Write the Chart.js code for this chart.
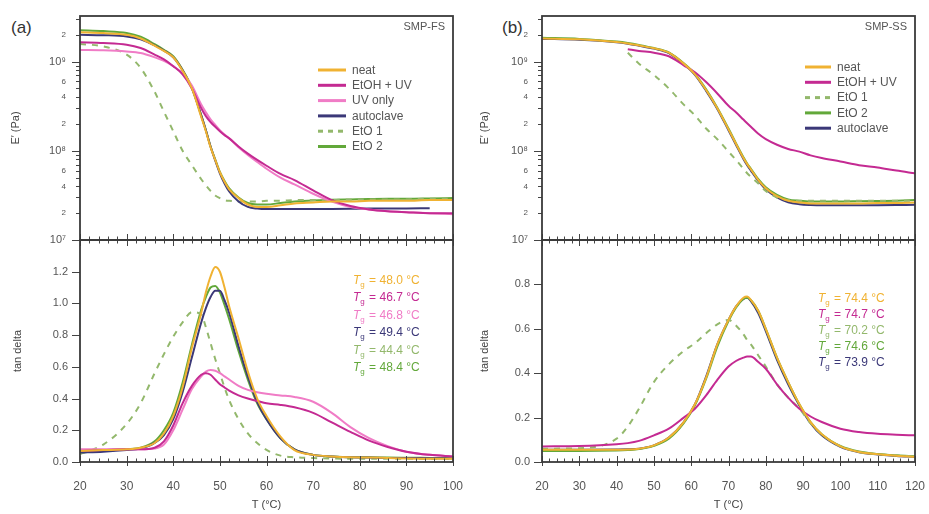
<!DOCTYPE html>
<html>
<head>
<meta charset="utf-8">
<script src="https://cdn.jsdelivr.net/npm/chart.js@4.4.1/dist/chart.umd.min.js"></script>
<style>
  body { margin: 0; background: #fff; width: 929px; height: 514px; position: relative; overflow: hidden; font-family: "Liberation Sans", Arial, sans-serif; }
  canvas { position: absolute; }
  .tag { position: absolute; font-size: 17px; color: #333; }
</style>
</head>
<body>
<div class="tag" style="left:11px;top:18px">(a)</div>
<div class="tag" style="left:502px;top:18px">(b)</div>
<canvas id="aTop" width="465" height="246" style="left:0;top:0"></canvas>
<canvas id="aBot" width="465" height="280" style="left:0;top:234px"></canvas>
<canvas id="bTop" width="464" height="246" style="left:465px;top:0"></canvas>
<canvas id="bBot" width="464" height="280" style="left:465px;top:234px"></canvas>
<script>
// ---- panel (a) SMP-FS ----
const tA = [20,25,30,33,36,38,40,42,44,46,47,48,49,50,51,52,54,56,58,60,63,66,70,74,78,82,86,90,95,100];
const labelsA = ["neat", "EtOH + UV", "UV only", "autoclave", "EtO 1", "EtO 2"];
const tgA = ["48.0", "46.7", "46.8", "49.4", "44.4", "48.4"];

const eNeatA = [2.14e9,2.09e9,2.0e9,1.82e9,1.51e9,1.32e9,1.12e9,7.9e8,5.0e8,2.4e8,1.66e8,1.1e8,7.9e7,5.75e7,4.5e7,3.7e7,2.95e7,2.5e7,2.35e7,2.35e7,2.45e7,2.57e7,2.63e7,2.7e7,2.7e7,2.75e7,2.75e7,2.75e7,2.8e7,2.8e7];
const eEtohA = [1.65e9,1.62e9,1.55e9,1.42e9,1.2e9,1.06e9,8.9e8,7.2e8,5.0e8,3.0e8,2.45e8,2.1e8,1.86e8,1.66e8,1.5e8,1.38e8,1.12e8,9.3e7,7.9e7,6.8e7,5.5e7,4.7e7,3.6e7,2.8e7,2.4e7,2.2e7,2.1e7,2.05e7,2.0e7,2.0e7];
const eUvA   = [1.35e9,1.34e9,1.3e9,1.25e9,1.12e9,1.02e9,8.9e8,7.4e8,5.4e8,3.3e8,2.7e8,2.25e8,1.95e8,1.7e8,1.52e8,1.38e8,1.1e8,9.0e7,7.5e7,6.3e7,5.0e7,4.2e7,3.3e7,2.7e7,2.35e7,2.2e7,2.1e7,2.05e7,2.0e7,1.95e7];
const eAutoA = [2.0e9,1.98e9,1.92e9,1.78e9,1.52e9,1.33e9,1.12e9,8.0e8,5.0e8,2.5e8,1.7e8,1.12e8,7.8e7,5.6e7,4.3e7,3.5e7,2.7e7,2.35e7,2.25e7,2.22e7,2.22e7,2.22e7,2.22e7,2.23e7,2.24e7,2.25e7,2.25e7,2.26e7,2.27e7,null];
const eEto1A = [1.58e9,1.48e9,1.2e9,8.5e8,4.6e8,2.75e8,1.66e8,1.0e8,6.9e7,4.8e7,4.1e7,3.55e7,3.15e7,2.95e7,2.8e7,2.75e7,2.7e7,2.7e7,2.7e7,2.75e7,2.75e7,2.8e7,2.8e7,2.8e7,2.85e7,2.85e7,2.85e7,2.85e7,2.9e7,2.9e7];
const eEto2A = [2.25e9,2.2e9,2.1e9,1.9e9,1.57e9,1.36e9,1.15e9,8.1e8,5.1e8,2.5e8,1.7e8,1.12e8,8.0e7,5.8e7,4.6e7,3.8e7,3.0e7,2.6e7,2.5e7,2.5e7,2.6e7,2.7e7,2.78e7,2.82e7,2.85e7,2.88e7,2.9e7,2.9e7,2.92e7,2.95e7];

const dNeatA = [0.07,0.075,0.08,0.09,0.12,0.18,0.29,0.47,0.72,0.94,1.07,1.17,1.23,1.2,1.1,0.98,0.78,0.57,0.4,0.29,0.16,0.075,0.045,0.035,0.03,0.028,0.025,0.022,0.02,0.02];
const dEtohA = [0.07,0.075,0.08,0.08,0.09,0.13,0.23,0.37,0.48,0.55,0.56,0.55,0.52,0.49,0.47,0.45,0.42,0.4,0.385,0.37,0.36,0.345,0.31,0.25,0.19,0.135,0.095,0.065,0.045,0.035];
const dUvA   = [0.08,0.08,0.08,0.08,0.085,0.11,0.2,0.33,0.46,0.54,0.57,0.58,0.575,0.56,0.54,0.52,0.48,0.455,0.44,0.43,0.42,0.41,0.38,0.31,0.22,0.15,0.1,0.065,0.045,0.035];
const dAutoA = [0.06,0.065,0.075,0.085,0.12,0.17,0.27,0.44,0.66,0.88,0.97,1.04,1.08,1.08,1.02,0.94,0.73,0.54,0.38,0.27,0.15,0.08,0.045,0.035,0.03,0.028,0.026,0.025,0.024,0.024];
const dEto1A = [0.05,0.11,0.24,0.37,0.56,0.68,0.79,0.88,0.945,0.93,0.85,0.75,0.65,0.56,0.47,0.39,0.27,0.18,0.12,0.076,0.04,0.03,0.025,0.022,0.02,0.02,0.02,0.02,0.02,0.02];
const dEto2A = [0.06,0.07,0.08,0.09,0.13,0.2,0.31,0.5,0.74,0.96,1.04,1.1,1.11,1.07,0.99,0.9,0.7,0.52,0.37,0.27,0.15,0.08,0.045,0.035,0.03,0.03,0.028,0.027,0.026,0.025];

// ---- panel (b) SMP-SS ----
const tB = [20,30,40,43,46,50,54,58,61,64,67,70,72,74,75,76,78,80,83,86,89,92,95,100,105,110,115,120];
const labelsB = ["neat", "EtOH + UV", "EtO 1", "EtO 2", "autoclave"];
const tgB = ["74.4", "74.7", "70.2", "74.6", "73.9"];

const eNeatB = [1.82e9,1.78e9,1.66e9,1.6e9,1.52e9,1.41e9,1.26e9,9.5e8,7.2e8,4.8e8,3.0e8,1.74e8,1.2e8,8.3e7,7.1e7,6.2e7,4.7e7,3.8e7,3.1e7,2.75e7,2.63e7,2.57e7,2.57e7,2.57e7,2.57e7,2.6e7,2.6e7,2.63e7];
const eEtohB = [null,null,null,1.38e9,1.32e9,1.26e9,1.15e9,9.1e8,7.6e8,5.9e8,4.4e8,3.2e8,2.7e8,2.24e8,2.04e8,1.86e8,1.55e8,1.35e8,1.17e8,1.05e8,9.8e7,8.9e7,8.3e7,7.6e7,6.9e7,6.5e7,6.0e7,5.6e7];
const eEto1B = [null,null,null,1.26e9,9.5e8,7.1e8,5.0e8,3.3e8,2.5e8,1.78e8,1.35e8,9.8e7,7.9e7,6.3e7,5.6e7,5.1e7,4.3e7,3.55e7,3.0e7,2.8e7,2.75e7,2.75e7,2.75e7,2.75e7,2.75e7,2.75e7,2.75e7,2.75e7];
const eEto2B = [1.85e9,1.8e9,1.68e9,1.62e9,1.54e9,1.42e9,1.27e9,9.6e8,7.3e8,4.9e8,3.05e8,1.78e8,1.22e8,8.5e7,7.2e7,6.3e7,4.8e7,3.9e7,3.2e7,2.85e7,2.75e7,2.7e7,2.7e7,2.7e7,2.72e7,2.74e7,2.76e7,2.8e7];
const eAutoB = [1.8e9,1.76e9,1.65e9,1.59e9,1.51e9,1.4e9,1.25e9,9.4e8,7.1e8,4.7e8,2.95e8,1.7e8,1.17e8,8.1e7,6.9e7,6.0e7,4.6e7,3.7e7,3.0e7,2.65e7,2.52e7,2.47e7,2.45e7,2.45e7,2.45e7,2.46e7,2.47e7,2.48e7];

const dNeatB = [0.055,0.055,0.055,0.056,0.06,0.075,0.11,0.18,0.26,0.38,0.53,0.64,0.7,0.74,0.745,0.73,0.68,0.6,0.47,0.36,0.26,0.18,0.125,0.07,0.045,0.035,0.028,0.024];
const dEtohB = [0.07,0.072,0.08,0.085,0.095,0.12,0.15,0.2,0.24,0.3,0.37,0.43,0.455,0.47,0.475,0.475,0.45,0.42,0.35,0.29,0.24,0.205,0.18,0.15,0.135,0.127,0.123,0.12];
const dEto1B = [0.06,0.062,0.105,0.16,0.24,0.36,0.44,0.5,0.535,0.58,0.62,0.64,0.615,0.575,0.55,0.53,0.48,0.43,0.35,0.29,0.24,0.175,0.125,0.07,0.045,0.035,0.03,0.025];
const dEto2B = [0.05,0.05,0.052,0.054,0.058,0.073,0.105,0.175,0.255,0.375,0.52,0.635,0.695,0.735,0.74,0.73,0.68,0.6,0.47,0.36,0.26,0.18,0.125,0.072,0.047,0.036,0.03,0.026];
const dAutoB = [0.055,0.055,0.056,0.057,0.06,0.075,0.11,0.18,0.26,0.385,0.53,0.64,0.7,0.735,0.74,0.725,0.67,0.59,0.46,0.35,0.255,0.175,0.12,0.068,0.044,0.034,0.027,0.023];

// axis tick labels
const eTickVals = [1e7, 2e7, 4e7, 6e7, 1e8, 2e8, 4e8, 6e8, 1e9, 2e9];
const eTickLabels = ["10\u2077", "2", "4", "6", "10\u2078", "2", "4", "6", "10\u2079", "2"];

const col = {
  neat: "#f0b232",
  etoh: "#c42a92",
  uv: "#f07cc6",
  auto: "#3b3878",
  eto1: "#93b86c",
  eto2: "#62a83a"
};

Chart.defaults.font.family = '"Liberation Sans", Arial, sans-serif';
Chart.defaults.color = "#444";

function series(t, vals, label, color, dash) {
  return {
    label: label,
    data: t.map((x, i) => ({ x: x, y: vals[i] })),
    borderColor: color,
    backgroundColor: color,
    borderWidth: 2,
    borderDash: dash || [],
    pointRadius: 0,
    cubicInterpolationMode: "monotone",
    fill: false
  };
}

// frame, ticks, legend and Tg labels
const decor = {
  id: "decor",
  afterDraw(chart, args, o) {
    const { ctx, chartArea: a } = chart;
    const xs = chart.scales.x, ys = chart.scales.y;
    ctx.save();
    ctx.strokeStyle = "#444";
    ctx.lineWidth = 1;
    // x ticks (every 2 degrees, major every 10)
    for (let t = xs.min; t <= xs.max; t += 2) {
      const px = Math.round(xs.getPixelForValue(t)) + 0.5;
      const major = t % 10 === 0;
      const len = major ? 6 : 3.5;
      ctx.beginPath();
      if (o.bottomTicks) {
        ctx.moveTo(px, a.bottom + (major ? 4 : 0));
        ctx.lineTo(px, a.bottom - len);
        ctx.moveTo(px, a.top);
        ctx.lineTo(px, a.top + len);
      } else {
        ctx.moveTo(px, a.bottom);
        ctx.lineTo(px, a.bottom - len);
      }
      ctx.stroke();
    }
    // y ticks outside left
    o.yTicks.forEach(tk => {
      const py = Math.round(ys.getPixelForValue(tk.v)) + 0.5;
      if (py < a.top - 1 || py > a.bottom + 1) return;
      ctx.beginPath();
      ctx.moveTo(a.left - (tk.major ? 8 : 4), py);
      ctx.lineTo(a.left, py);
      ctx.stroke();
    });
    // frame
    ctx.strokeStyle = "#3a3a3a";
    ctx.lineWidth = 1.8;
    ctx.strokeRect(a.left, a.top, a.width, a.height);

    // panel tag
    if (o.tag) {
      ctx.fillStyle = "#555";
      ctx.font = '11px "Liberation Sans", Arial, sans-serif';
      ctx.textAlign = "right";
      ctx.textBaseline = "middle";
      ctx.fillText(o.tag, a.right - 8, a.top + 11);
    }
    // line legend
    if (o.legend) {
      const L = o.legend;
      ctx.font = '12px "Liberation Sans", Arial, sans-serif';
      ctx.textAlign = "left";
      ctx.textBaseline = "middle";
      chart.data.datasets.forEach((ds, i) => {
        const y = L.y + i * L.dy;
        ctx.strokeStyle = ds.borderColor;
        ctx.lineWidth = 3;
        ctx.setLineDash(ds.borderDash.length ? [5, 5] : []);
        ctx.beginPath();
        ctx.moveTo(L.x, y);
        ctx.lineTo(L.x + L.len, y);
        ctx.stroke();
        ctx.setLineDash([]);
        ctx.fillStyle = "#555";
        ctx.fillText(ds.label, L.x + L.len + 6, y + 0.5);
      });
    }
    // Tg labels
    if (o.tg) {
      const T = o.tg;
      ctx.textAlign = "left";
      ctx.textBaseline = "alphabetic";
      chart.data.datasets.forEach((ds, i) => {
        const y = T.y + i * T.dy;
        let x = T.x;
        ctx.fillStyle = ds.borderColor;
        ctx.font = 'italic 12px "Liberation Sans", Arial, sans-serif';
        ctx.fillText("T", x, y);
        x += ctx.measureText("T").width;
        ctx.font = '8px "Liberation Sans", Arial, sans-serif';
        ctx.fillText("g", x, y + 3);
        x += ctx.measureText("g").width + 1;
        ctx.font = '12px "Liberation Sans", Arial, sans-serif';
        ctx.fillText(" = " + T.values[i] + " \u00B0C", x, y);
      });
    }
    ctx.restore();
  }
};

const logTicks = [];
[1e7, 1e8, 1e9].forEach(d => {
  for (let m = 1; m <= 9; m++) logTicks.push({ v: m * d, major: m === 1 });
});

function fitY(panel) {
  return s => {
    s.width = panel === "a" ? 80 : 77;
    s.paddingTop = 0;
    s.paddingBottom = 0;
  };
}

function topChart(id, sets, xmax, titlePad, tag, legend) {
  const right = id[0] === "a" ? 12 : 14;
  return new Chart(document.getElementById(id), {
    type: "line",
    data: { datasets: sets },
    options: {
      responsive: false,
      animation: false,
      layout: { padding: { top: 16, bottom: 6, left: 0, right: right } },
      plugins: {
        legend: { display: false },
        tooltip: { enabled: false },
        decor: { yTicks: logTicks, tag: tag, legend: legend, bottomTicks: false }
      },
      scales: {
        x: { type: "linear", min: 20, max: xmax, display: false },
        y: {
          type: "logarithmic",
          min: 1e7,
          max: 3.25e9,
          afterFit: fitY(id[0]),
          afterBuildTicks: s => { s.ticks = eTickVals.map(v => ({ value: v })); },
          grid: { display: false, drawTicks: false },
          border: { display: false },
          ticks: {
            autoSkip: false,
            padding: 14,
            color: "#555",
            callback: (v, i) => eTickLabels[i],
            font: c => ({ size: eTickLabels[c.index] && eTickLabels[c.index].length > 1 ? 11 : 8 })
          },
          title: { display: true, text: "E\u2032 (Pa)", font: { size: 11 }, color: "#444", padding: { top: titlePad, bottom: 0 } }
        }
      }
    },
    plugins: [decor]
  });
}

function botChart(id, sets, xmax, ymax, yTickVals, titlePad, tg) {
  const right = id[0] === "a" ? 12 : 14;
  return new Chart(document.getElementById(id), {
    type: "line",
    data: { datasets: sets },
    options: {
      responsive: false,
      animation: false,
      layout: { padding: { top: 6, bottom: 0, left: 0, right: right } },
      plugins: {
        legend: { display: false },
        tooltip: { enabled: false },
        decor: { yTicks: yTickVals.map(v => ({ v: v, major: true })), tg: tg, bottomTicks: true }
      },
      scales: {
        x: {
          type: "linear",
          min: 20,
          max: xmax,
          afterFit: s => { s.height = 52; s.paddingLeft = 0; s.paddingRight = 0; },
          grid: { display: false, drawTicks: false },
          border: { display: false },
          ticks: { stepSize: 10, padding: 17, color: "#555", font: { size: 12 }, maxRotation: 0 },
          title: { display: true, text: "T (\u00B0C)", font: { size: 11 }, color: "#444", padding: { top: 0, bottom: 2 } }
        },
        y: {
          type: "linear",
          min: 0,
          max: ymax,
          afterFit: fitY(id[0]),
          afterBuildTicks: s => { s.ticks = yTickVals.map(v => ({ value: v })); },
          grid: { display: false, drawTicks: false },
          border: { display: false },
          ticks: { autoSkip: false, padding: 12, color: "#555", font: { size: 11 }, callback: v => v.toFixed(1) },
          title: { display: true, text: "tan delta", font: { size: 11 }, color: "#444", padding: { top: titlePad, bottom: 0 } }
        }
      }
    },
    plugins: [decor]
  });
}

// panel (a)
topChart("aTop", [
  series(tA, eNeatA, labelsA[0], col.neat),
  series(tA, eEtohA, labelsA[1], col.etoh),
  series(tA, eUvA, labelsA[2], col.uv),
  series(tA, eAutoA, labelsA[3], col.auto),
  series(tA, eEto1A, labelsA[4], col.eto1, [6, 6]),
  series(tA, eEto2A, labelsA[5], col.eto2)
], 100, 9, "SMP-FS", { x: 318, y: 70, dy: 15.3, len: 28 });

botChart("aBot", [
  series(tA, dNeatA, labelsA[0], col.neat),
  series(tA, dEtohA, labelsA[1], col.etoh),
  series(tA, dUvA, labelsA[2], col.uv),
  series(tA, dAutoA, labelsA[3], col.auto),
  series(tA, dEto1A, labelsA[4], col.eto1, [6, 6]),
  series(tA, dEto2A, labelsA[5], col.eto2)
], 100, 1.4, [0, 0.2, 0.4, 0.6, 0.8, 1.0, 1.2], 11, { x: 353, y: 50, dy: 17.4, values: tgA });

// panel (b)
topChart("bTop", [
  series(tB, eNeatB, labelsB[0], col.neat),
  series(tB, eEtohB, labelsB[1], col.etoh),
  series(tB, eEto1B, labelsB[2], col.eto1, [6, 6]),
  series(tB, eEto2B, labelsB[3], col.eto2),
  series(tB, eAutoB, labelsB[4], col.auto)
], 120, 13, "SMP-SS", { x: 340, y: 67, dy: 15.3, len: 26 });

botChart("bBot", [
  series(tB, dNeatB, labelsB[0], col.neat),
  series(tB, dEtohB, labelsB[1], col.etoh),
  series(tB, dEto1B, labelsB[2], col.eto1, [6, 6]),
  series(tB, dEto2B, labelsB[3], col.eto2),
  series(tB, dAutoB, labelsB[4], col.auto)
], 120, 1.0, [0, 0.2, 0.4, 0.6, 0.8], 13, { x: 353, y: 68, dy: 16, values: tgB });
</script>
</body>
</html>
